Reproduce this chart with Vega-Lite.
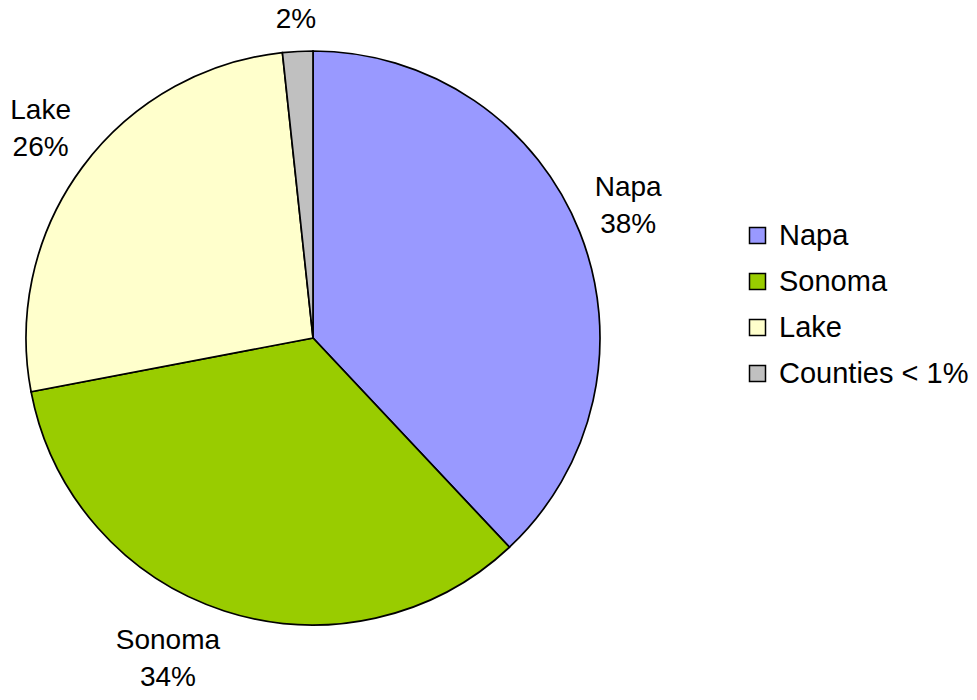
{
  "$schema": "https://vega.github.io/schema/vega-lite/v6.json",
  "width": 626,
  "height": 676,
  "autosize": {"type": "none"},
  "padding": {"left": 0, "top": 0, "right": 351, "bottom": 24},
  "background": "white",
  "config": {"view": {"stroke": null}, "font": "Liberation Sans"},
  "data": {
    "values": [
      {"county": "Napa", "value": 38, "label": "Napa\n38%", "order": 1},
      {"county": "Sonoma", "value": 34, "label": "Sonoma\n34%", "order": 2},
      {"county": "Lake", "value": 26.3, "label": "Lake\n26%", "order": 3},
      {"county": "Counties < 1%", "value": 1.7, "label": "2%", "order": 4}
    ]
  },
  "encoding": {
    "theta": {"field": "value", "type": "quantitative", "stack": true},
    "order": {"field": "order", "type": "quantitative"}
  },
  "layer": [
    {
      "mark": {"type": "arc", "outerRadius": 287, "stroke": "black", "strokeWidth": 1.7},
      "encoding": {
        "color": {
          "field": "county",
          "type": "nominal",
          "sort": ["Napa", "Sonoma", "Lake", "Counties < 1%"],
          "scale": {"domain": ["Napa", "Sonoma", "Lake", "Counties < 1%"], "range": ["#9999FF", "#99CC00", "#FFFFCC", "#C0C0C0"]},
          "legend": {
            "title": null,
            "orient": "none",
            "legendX": 743,
            "legendY": 221,
            "symbolType": "square",
            "symbolSize": 256,
            "symbolStrokeColor": "black",
            "symbolStrokeWidth": 1.5,
            "labelFontSize": 29,
            "labelFont": "Liberation Sans",
            "labelColor": "black",
            "labelOffset": 7,
            "rowPadding": 16,
            "labelLimit": 300
          }
        }
      }
    },
    {
      "mark": {"type": "text", "radius": 339, "fontSize": 28, "lineBreak": "\n", "lineHeight": 37, "align": "center", "baseline": "middle", "dy": -25, "color": "black"},
      "encoding": {"text": {"condition": {"test": "datum.county == 'Napa' || datum.county == 'Lake'", "field": "label"}, "value": ""}}
    },
    {
      "mark": {"type": "text", "radius": 340, "fontSize": 28, "lineBreak": "\n", "lineHeight": 37, "align": "center", "baseline": "middle", "dx": -40, "dy": -20, "color": "black"},
      "encoding": {"text": {"condition": {"test": "datum.county == 'Sonoma'", "field": "label"}, "value": ""}}
    },
    {
      "mark": {"type": "text", "radius": 318, "fontSize": 28, "align": "center", "baseline": "middle", "color": "black"},
      "encoding": {"text": {"condition": {"test": "datum.county == 'Counties < 1%'", "field": "label"}, "value": ""}}
    }
  ]
}
